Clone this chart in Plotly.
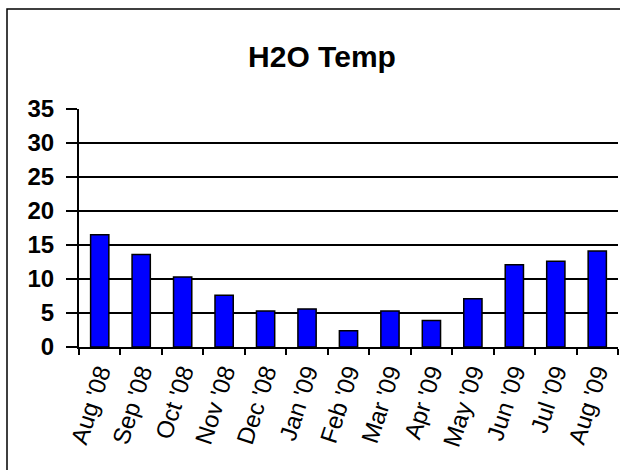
import plotly.graph_objects as go

months = ["Aug '08", "Sep '08", "Oct '08", "Nov '08", "Dec '08", "Jan '09", "Feb '09",
          "Mar '09", "Apr '09", "May '09", "Jun '09", "Jul '09", "Aug '09"]
temps = [16.5, 13.6, 10.3, 7.6, 5.3, 5.6, 2.4, 5.3, 3.9, 7.1, 12.1, 12.6, 14.1]
y_ticks = [0, 5, 10, 15, 20, 25, 30, 35]

W, H = 620, 470
L, R, T, B = 79, 2, 109, 123
pw, ph = W - L - R, H - T - B
font = "Arial, Liberation Sans, sans-serif"

fig = go.Figure(go.Bar(
    x=months, y=temps,
    marker=dict(color="#0000ff", line=dict(color="black", width=1.5)),
))

# outer chart frame (cut off at right/bottom in the original)
fig.add_shape(type="rect", xref="paper", yref="paper",
              x0=(7 - L) / pw, x1=1.2, y0=-1.0, y1=(H - B - 9) / ph,
              line=dict(color="black", width=1.5), layer="below")

fig.update_layout(
    width=W, height=H,
    margin=dict(l=L, r=R, t=T, b=B),
    paper_bgcolor="white", plot_bgcolor="white",
    bargap=0.56, showlegend=False,
    font=dict(family=font, color="black"),
    title=dict(text="<b>H2O Temp</b>", font=dict(size=30, family=font, color="black"),
               x=322 / W, xanchor="center", xref="container",
               y=1 - 56 / H, yanchor="middle", yref="container"),
)
fig.update_xaxes(
    type="category", range=[-0.5, len(months) - 0.5],
    showline=True, linecolor="black", linewidth=1.5,
    ticks="outside", tickson="boundaries", ticklen=6, tickwidth=1.5, tickcolor="black",
    tickangle=-72, tickfont=dict(size=24, family=font, color="black"),
    showgrid=False,
)
fig.update_yaxes(
    range=[0, 35], tickvals=y_ticks,
    showline=True, linecolor="black", linewidth=2,
    ticks="outside", ticklen=11, tickwidth=1.5, tickcolor="black",
    showgrid=True, gridcolor="black", gridwidth=1.5, zeroline=False,
    tickfont=dict(size=24, family=font, color="black", weight="bold"),
    ticklabelstandoff=7,
)

# drop the default page margin so the figure sits at the window's corner
fig.write_html("out.html", config={"displayModeBar": False},
               post_script="document.body.style.margin='0';")
